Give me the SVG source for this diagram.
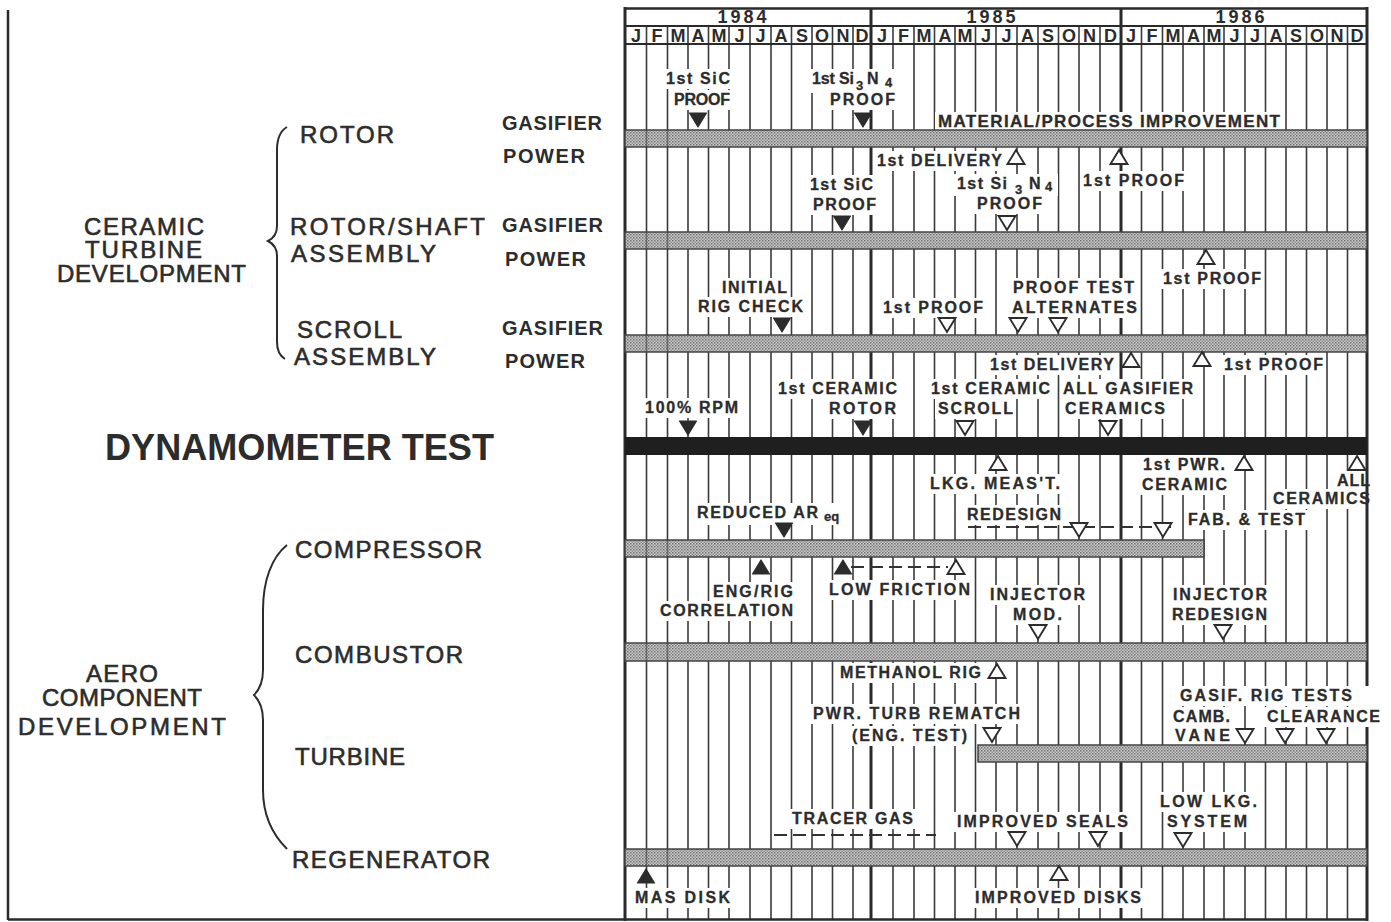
<svg xmlns="http://www.w3.org/2000/svg" width="1391" height="922" viewBox="0 0 1391 922">
<defs>
<pattern id="stip" width="3" height="3" patternUnits="userSpaceOnUse"><rect width="3" height="3" fill="#cdcdcd"/><rect width="1.5" height="1.5" fill="#6e6e6e"/><rect x="1.5" y="1.5" width="1.5" height="1.5" fill="#8c8c8c"/></pattern>
<path id="tdn" d="M-8.5,0 L8.5,0 L0,14 Z"/>
<path id="tup" d="M0,0 L8.5,14 L-8.5,14 Z"/>
</defs>
<style>
text{font-family:"Liberation Sans",Arial,Helvetica,sans-serif;fill:#2c2c2c}
.t{font-weight:bold;font-size:16px;stroke:#2c2c2c;stroke-width:0.3}
.t16{font-size:17px}
.sub{font-size:13px}
.big{font-size:24px;stroke:#2c2c2c;stroke-width:0.6}
.rl{font-weight:bold;font-size:20px}
.dyn{font-weight:bold;font-size:36px}
.mo{font-weight:bold;font-size:18px;text-anchor:middle}
.yr{font-weight:bold;font-size:18px;text-anchor:middle}
.ml{stroke:#3a3a3a;stroke-width:1.6}
.yl{stroke:#2a2a2a;stroke-width:3}
.fr{stroke:#2a2a2a;stroke-width:2.5;fill:none}
.bar{fill:url(#stip);stroke:#444;stroke-width:1.5}
.dbar{fill:#1f1f1f}
.bg{fill:#fff}
.tf{fill:#2c2c2c;stroke:#2c2c2c;stroke-width:1.2;stroke-linejoin:round}
.th{fill:#fff;stroke:#2c2c2c;stroke-width:1.9}
.dash{stroke:#333;stroke-width:2;stroke-dasharray:13 6;fill:none}
.brace{fill:none;stroke:#2c2c2c;stroke-width:2}
</style>
<rect width="1391" height="922" fill="#fff"/>

<g id="grid">
<g class="ml">
<line x1="646.5" y1="26" x2="646.5" y2="919"/><line x1="667.5" y1="26" x2="667.5" y2="919"/><line x1="688" y1="26" x2="688" y2="919"/><line x1="708.5" y1="26" x2="708.5" y2="919"/><line x1="729" y1="26" x2="729" y2="919"/><line x1="750" y1="26" x2="750" y2="919"/><line x1="771" y1="26" x2="771" y2="919"/><line x1="791.5" y1="26" x2="791.5" y2="919"/><line x1="812" y1="26" x2="812" y2="919"/><line x1="832.5" y1="26" x2="832.5" y2="919"/><line x1="853" y1="26" x2="853" y2="919"/>
<line x1="893" y1="26" x2="893" y2="919"/><line x1="914" y1="26" x2="914" y2="919"/><line x1="934.5" y1="26" x2="934.5" y2="919"/><line x1="955" y1="26" x2="955" y2="919"/><line x1="975.5" y1="26" x2="975.5" y2="919"/><line x1="996" y1="26" x2="996" y2="919"/><line x1="1017" y1="26" x2="1017" y2="919"/><line x1="1038" y1="26" x2="1038" y2="919"/><line x1="1058.5" y1="26" x2="1058.5" y2="919"/><line x1="1079" y1="26" x2="1079" y2="919"/><line x1="1100" y1="26" x2="1100" y2="919"/>
<line x1="1141.5" y1="26" x2="1141.5" y2="919"/><line x1="1162.5" y1="26" x2="1162.5" y2="919"/><line x1="1183" y1="26" x2="1183" y2="919"/><line x1="1204" y1="26" x2="1204" y2="919"/><line x1="1224" y1="26" x2="1224" y2="919"/><line x1="1245" y1="26" x2="1245" y2="919"/><line x1="1265.5" y1="26" x2="1265.5" y2="919"/><line x1="1286" y1="26" x2="1286" y2="919"/><line x1="1306.5" y1="26" x2="1306.5" y2="919"/><line x1="1327" y1="26" x2="1327" y2="919"/><line x1="1347.5" y1="26" x2="1347.5" y2="919"/>
</g>
<g class="yl">
<line x1="871" y1="8" x2="871" y2="919"/><line x1="1121" y1="8" x2="1121" y2="919"/>
</g>
</g>

<g id="label-bg" class="bg">
<rect x="663" y="69" width="70" height="20"/><rect x="671" y="90" width="62" height="20"/>
<rect x="809" y="69" width="91" height="24"/><rect x="827" y="90" width="71" height="20"/>
<rect x="935" y="112" width="348" height="18"/>
<rect x="874" y="151" width="131" height="20"/><rect x="1080" y="171" width="107" height="20"/>
<rect x="807" y="175" width="69" height="20"/><rect x="810" y="195" width="69" height="20"/>
<rect x="954" y="174" width="104" height="22"/><rect x="974" y="194" width="71" height="20"/>
<rect x="1160" y="269" width="104" height="20"/>
<rect x="719" y="278" width="71" height="20"/><rect x="695" y="297" width="111" height="20"/>
<rect x="880" y="298" width="106" height="20"/>
<rect x="1010" y="278" width="127" height="20"/><rect x="1009" y="298" width="131" height="20"/>
<rect x="987" y="355" width="130" height="20"/><rect x="1221" y="355" width="105" height="20"/>
<rect x="642" y="398" width="99" height="20"/>
<rect x="775" y="379" width="125" height="20"/><rect x="826" y="399" width="73" height="20"/>
<rect x="928" y="379" width="125" height="20"/><rect x="935" y="399" width="81" height="20"/>
<rect x="1060" y="379" width="136" height="20"/><rect x="1062" y="399" width="106" height="20"/>
<rect x="927" y="474" width="136" height="20"/><rect x="964" y="505" width="100" height="20"/>
<rect x="1140" y="455" width="88" height="20"/><rect x="1139" y="475" width="91" height="20"/>
<rect x="1334" y="471" width="39" height="20"/><rect x="1270" y="489" width="103" height="20"/>
<rect x="1185" y="510" width="123" height="20"/>
<rect x="694" y="503" width="156" height="22"/>
<rect x="710" y="582" width="86" height="20"/><rect x="657" y="601" width="139" height="20"/>
<rect x="826" y="580" width="147" height="20"/>
<rect x="987" y="585" width="101" height="20"/><rect x="1010" y="605" width="55" height="20"/>
<rect x="1170" y="585" width="100" height="20"/><rect x="1169" y="605" width="101" height="20"/>
<rect x="837" y="663" width="147" height="20"/>
<rect x="810" y="704" width="213" height="20"/><rect x="849" y="726" width="121" height="20"/>
<rect x="1177" y="686" width="178" height="20"/>
<rect x="1170" y="707" width="63" height="20"/><rect x="1172" y="726" width="61" height="20"/>
<rect x="1264" y="707" width="119" height="20"/>
<rect x="789" y="809" width="127" height="20"/><rect x="954" y="812" width="177" height="20"/>
<rect x="1157" y="792" width="103" height="20"/><rect x="1164" y="812" width="86" height="20"/>
<rect x="632" y="888" width="101" height="20"/><rect x="972" y="888" width="172" height="20"/>
</g>

<g id="frame">
<line class="fr" x1="8" y1="10" x2="8" y2="920"/>
<line class="fr" x1="8" y1="919.5" x2="1368" y2="919.5"/>
<line class="yl" x1="625" y1="7" x2="625" y2="921"/>
<line class="yl" x1="1367" y1="7" x2="1367" y2="686"/>
<line class="yl" x1="1367" y1="727" x2="1367" y2="921"/>
</g>

<g id="header">
<line class="fr" x1="625" y1="8.5" x2="1368" y2="8.5"/>
<line class="fr" x1="625" y1="26" x2="1368" y2="26" style="stroke-width:2"/>
<line class="fr" x1="625" y1="44" x2="1368" y2="44" style="stroke-width:2"/>
<text class="yr" x="742" y="23" textLength="49">1984</text>
<text class="yr" x="991" y="23" textLength="49">1985</text>
<text class="yr" x="1240" y="23" textLength="49">1986</text>
<text class="mo" x="636" y="42">J</text><text class="mo" x="657" y="42">F</text><text class="mo" x="678" y="42">M</text><text class="mo" x="698" y="42">A</text><text class="mo" x="719" y="42">M</text><text class="mo" x="739.5" y="42">J</text><text class="mo" x="760.5" y="42">J</text><text class="mo" x="781" y="42">A</text><text class="mo" x="802" y="42">S</text><text class="mo" x="822" y="42">O</text><text class="mo" x="843" y="42">N</text><text class="mo" x="862" y="42">D</text>
<text class="mo" x="882" y="42">J</text><text class="mo" x="903.5" y="42">F</text><text class="mo" x="924" y="42">M</text><text class="mo" x="945" y="42">A</text><text class="mo" x="965" y="42">M</text><text class="mo" x="986" y="42">J</text><text class="mo" x="1006.5" y="42">J</text><text class="mo" x="1027.5" y="42">A</text><text class="mo" x="1048" y="42">S</text><text class="mo" x="1069" y="42">O</text><text class="mo" x="1089.5" y="42">N</text><text class="mo" x="1110.5" y="42">D</text>
<text class="mo" x="1131" y="42">J</text><text class="mo" x="1152" y="42">F</text><text class="mo" x="1173" y="42">M</text><text class="mo" x="1193.5" y="42">A</text><text class="mo" x="1214" y="42">M</text><text class="mo" x="1234.5" y="42">J</text><text class="mo" x="1255" y="42">J</text><text class="mo" x="1276" y="42">A</text><text class="mo" x="1296" y="42">S</text><text class="mo" x="1317" y="42">O</text><text class="mo" x="1337" y="42">N</text><text class="mo" x="1357" y="42">D</text>
</g>

<g id="bars">
<rect class="bar" x="625" y="130" width="742" height="17"/>
<rect class="bar" x="625" y="232" width="742" height="17"/>
<rect class="bar" x="625" y="335" width="742" height="17"/>
<rect class="dbar" x="625" y="437" width="742" height="18"/>
<rect class="bar" x="625" y="540" width="579" height="17"/>
<rect class="bar" x="625" y="643" width="742" height="18"/>
<rect class="bar" x="978" y="745" width="389" height="17"/>
<rect class="bar" x="625" y="849" width="742" height="17"/>
<g class="ml" style="stroke-opacity:0.6">
<line x1="646.5" y1="130" x2="646.5" y2="147"/><line x1="667.5" y1="130" x2="667.5" y2="147"/>
<line x1="646.5" y1="232" x2="646.5" y2="249"/><line x1="667.5" y1="232" x2="667.5" y2="249"/>
<line x1="646.5" y1="335" x2="646.5" y2="352"/><line x1="667.5" y1="335" x2="667.5" y2="352"/>
<line x1="646.5" y1="540" x2="646.5" y2="557"/><line x1="667.5" y1="540" x2="667.5" y2="557"/>
<line x1="646.5" y1="643" x2="646.5" y2="661"/><line x1="667.5" y1="643" x2="667.5" y2="661"/>
<line x1="646.5" y1="849" x2="646.5" y2="866"/><line x1="667.5" y1="849" x2="667.5" y2="866"/>
</g>
</g>

<g id="connectors">
<line class="dash" x1="968" y1="527" x2="1172" y2="527"/>
<line class="dash" x1="851" y1="567" x2="948" y2="567"/>
<line class="dash" x1="774" y1="835" x2="936" y2="835"/>
</g>

<g id="left-labels">
<g id="ceramic"><text class="big" x="84" y="235" textLength="120">CERAMIC</text><text class="big" x="85" y="258" textLength="117">TURBINE</text><text class="big" x="57" y="282" textLength="189">DEVELOPMENT</text></g>
<path class="brace" d="M287,127 C280,131 277,138 277,150 L277,226 C277,234 274,238 268,241 C274,244 277,248 277,256 L277,342 C277,351 280,356 285,359"/>
<g id="rotor"><text class="big" x="300" y="143" textLength="94">ROTOR</text></g>
<g id="rotorshaft"><text class="big" x="290" y="235" textLength="195">ROTOR/SHAFT</text><text class="big" x="291" y="262" textLength="145">ASSEMBLY</text></g>
<g id="scroll"><text class="big" x="297" y="338" textLength="105">SCROLL</text><text class="big" x="294" y="365" textLength="142">ASSEMBLY</text></g>
<g id="sub-rows">
<text class="rl" x="502" y="130" textLength="100">GASIFIER</text><text class="rl" x="503" y="163" textLength="82">POWER</text>
<text class="rl" x="502" y="232" textLength="101">GASIFIER</text><text class="rl" x="505" y="266" textLength="81">POWER</text>
<text class="rl" x="502" y="335" textLength="101">GASIFIER</text><text class="rl" x="505" y="368" textLength="80">POWER</text>
</g>
<g id="dynamometer"><text class="dyn" x="105" y="460" textLength="389" lengthAdjust="spacingAndGlyphs">DYNAMOMETER TEST</text></g>
<g id="aero"><text class="big" x="122" y="682" text-anchor="middle" textLength="72">AERO</text><text class="big" x="122" y="706" text-anchor="middle" textLength="160">COMPONENT</text><text class="big" x="122" y="735" text-anchor="middle" textLength="208">DEVELOPMENT</text></g>
<path class="brace" d="M287,545 C272,557 263,580 263,610 L263,670 C263,682 260,689 254,695 C260,701 263,708 263,720 L263,790 C263,815 272,834 287,849"/>
<g id="compressor"><text class="big" x="295" y="558" textLength="187">COMPRESSOR</text></g>
<g id="combustor"><text class="big" x="295" y="663" textLength="168">COMBUSTOR</text></g>
<g id="turbine"><text class="big" x="295" y="765" textLength="110">TURBINE</text></g>
<g id="regenerator"><text class="big" x="292" y="868" textLength="198">REGENERATOR</text></g>
</g>

<g id="milestones" class="t">
<g id="m-sic1"><text x="666" y="84" textLength="64">1st SiC</text><text x="674" y="105" textLength="56">PROOF</text><use href="#tdn" class="tf" x="698" y="113"/></g>
<g id="m-sin1"><text x="812" y="84" textLength="42">1st Si</text><text class="sub" x="856" y="90">3</text><text x="867" y="84">N</text><text class="sub" x="885" y="87">4</text><text x="830" y="105" textLength="65">PROOF</text><use href="#tdn" class="tf" x="863" y="113"/></g>
<g id="m-material"><text class="t16" x="938" y="127" textLength="342">MATERIAL/PROCESS IMPROVEMENT</text></g>
<g id="m-deliv1"><text x="877" y="166" textLength="125">1st DELIVERY</text><use href="#tup" class="th" x="1016" y="150"/></g>
<g id="m-proof-r2"><use href="#tup" class="th" x="1119" y="150"/><text x="1083" y="186" textLength="101">1st PROOF</text></g>
<g id="m-sic2"><text x="810" y="190" textLength="63">1st SiC</text><text x="813" y="210" textLength="63">PROOF</text><use href="#tdn" class="tf" x="842" y="216"/></g>
<g id="m-sin2"><text x="957" y="189" textLength="50">1st Si</text><text class="sub" x="1015" y="194">3</text><text x="1029" y="189">N</text><text class="sub" x="1045" y="191">4</text><text x="977" y="209" textLength="65">PROOF</text><use href="#tdn" class="th" x="1007" y="216"/></g>
<g id="m-proof-r4"><use href="#tup" class="th" x="1206" y="250"/><text x="1163" y="284" textLength="98">1st PROOF</text></g>
<g id="m-rigcheck"><text x="722" y="293" textLength="65">INITIAL</text><text x="698" y="312" textLength="105">RIG CHECK</text><use href="#tdn" class="tf" x="782" y="318"/></g>
<g id="m-proof-r5"><text x="883" y="313" textLength="100">1st PROOF</text><use href="#tdn" class="th" x="947" y="318"/></g>
<g id="m-alternates"><text x="1013" y="293" textLength="121">PROOF TEST</text><text x="1012" y="313" textLength="125">ALTERNATES</text><use href="#tdn" class="th" x="1018" y="318"/><use href="#tdn" class="th" x="1058" y="318"/></g>
<g id="m-deliv2"><text x="990" y="370" textLength="124">1st DELIVERY</text><use href="#tup" class="th" x="1131" y="353"/></g>
<g id="m-proof-r6"><use href="#tup" class="th" x="1202" y="352"/><text x="1224" y="370" textLength="99">1st PROOF</text></g>
<g id="m-rpm"><text x="645" y="413" textLength="93">100% RPM</text><use href="#tdn" class="tf" x="688" y="421"/></g>
<g id="m-cer-rotor"><text x="778" y="394" textLength="119">1st CERAMIC</text><text x="829" y="414" textLength="67">ROTOR</text><use href="#tdn" class="tf" x="863" y="421"/></g>
<g id="m-cer-scroll"><text x="931" y="394" textLength="119">1st CERAMIC</text><text x="938" y="414" textLength="75">SCROLL</text><use href="#tdn" class="th" x="965" y="421"/></g>
<g id="m-all-gas"><text x="1063" y="394" textLength="130">ALL GASIFIER</text><text x="1065" y="414" textLength="100">CERAMICS</text><use href="#tdn" class="th" x="1108" y="421"/></g>
<g id="m-lkg"><use href="#tup" class="th" x="998" y="456"/><text x="930" y="489" textLength="130">LKG. MEAS'T.</text></g>
<g id="m-redesign"><text x="967" y="520" textLength="94">REDESIGN</text><use href="#tdn" class="th" x="1079" y="523"/><use href="#tdn" class="th" x="1163" y="523"/></g>
<g id="m-pwr-cer"><text x="1143" y="470" textLength="82">1st PWR.</text><text x="1142" y="490" textLength="85">CERAMIC</text><use href="#tup" class="th" x="1244" y="456"/></g>
<g id="m-all-cer"><use href="#tup" class="th" x="1357" y="456"/><text x="1337" y="486" textLength="33">ALL</text><text x="1273" y="504" textLength="97">CERAMICS</text></g>
<g id="m-fab"><text x="1188" y="525" textLength="117">FAB. &amp; TEST</text></g>
<g id="m-reduced"><text x="697" y="518" textLength="121">REDUCED AR</text><text class="sub" x="824" y="521">eq</text><use href="#tdn" class="tf" x="784" y="523"/></g>
<g id="m-engrig"><use href="#tup" class="tf" x="761" y="560"/><text x="713" y="597" textLength="80">ENG/RIG</text><text x="660" y="616" textLength="133">CORRELATION</text></g>
<g id="m-lowfric"><use href="#tup" class="tf" x="843" y="560"/><use href="#tup" class="th" x="956" y="560"/><text x="829" y="595" textLength="141">LOW FRICTION</text></g>
<g id="m-injmod"><text x="990" y="600" textLength="95">INJECTOR</text><text x="1013" y="620" textLength="49">MOD.</text><use href="#tdn" class="th" x="1038" y="625"/></g>
<g id="m-injred"><text x="1173" y="600" textLength="94">INJECTOR</text><text x="1172" y="620" textLength="95">REDESIGN</text><use href="#tdn" class="th" x="1223" y="625"/></g>
<g id="m-methanol"><text x="840" y="678" textLength="141">METHANOL RIG</text><use href="#tup" class="th" x="997" y="664"/></g>
<g id="m-rematch"><text x="813" y="719" textLength="207">PWR. TURB REMATCH</text><text x="852" y="741" textLength="115">(ENG. TEST)</text><use href="#tdn" class="th" x="992" y="728"/></g>
<g id="m-gasif-rig"><text x="1180" y="701" textLength="172">GASIF. RIG TESTS</text></g>
<g id="m-camb"><text x="1173" y="722" textLength="57">CAMB.</text><text x="1175" y="741" textLength="55">VANE</text><use href="#tdn" class="th" x="1245" y="729"/></g>
<g id="m-clear"><text x="1267" y="722" textLength="113">CLEARANCE</text><use href="#tdn" class="th" x="1285" y="729"/><use href="#tdn" class="th" x="1326" y="729"/></g>
<g id="m-tracer"><text x="792" y="824" textLength="121">TRACER GAS</text></g>
<g id="m-seals"><text x="957" y="827" textLength="171">IMPROVED SEALS</text><use href="#tdn" class="th" x="1017" y="832"/><use href="#tdn" class="th" x="1098" y="832"/></g>
<g id="m-lowlkg"><text x="1160" y="807" textLength="97">LOW LKG.</text><text x="1167" y="827" textLength="80">SYSTEM</text><use href="#tdn" class="th" x="1183" y="833"/></g>
<g id="m-mas"><use href="#tup" class="tf" x="646" y="869"/><text x="635" y="903" textLength="95">MAS DISK</text></g>
<g id="m-disks"><use href="#tup" class="th" x="1059" y="866"/><text x="975" y="903" textLength="166">IMPROVED DISKS</text></g>
</g>
</svg>
